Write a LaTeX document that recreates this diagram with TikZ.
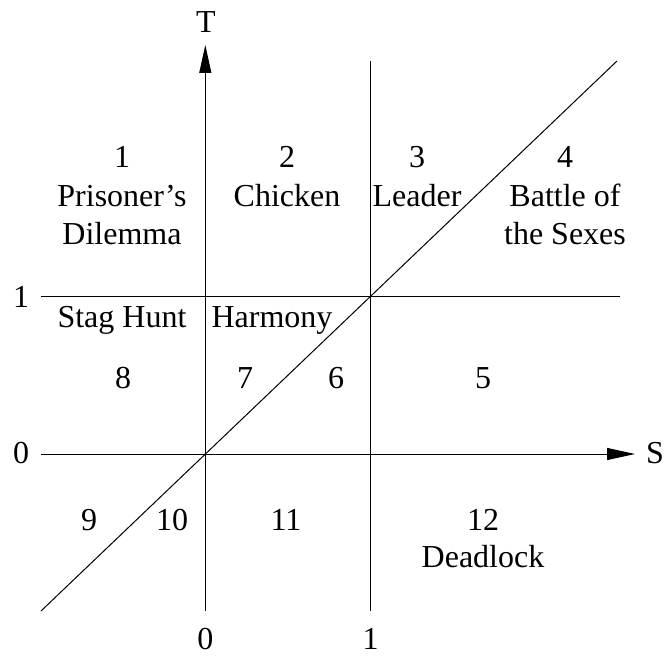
\documentclass[tikz,border=0pt]{standalone}
\usepackage{fontspec}
\setmainfont{Liberation Serif}
\usetikzlibrary{arrows.meta}
\begin{document}
\begin{tikzpicture}[x=0.5pt,y=-0.5pt,
  lbl/.style={anchor=base,inner sep=0pt,font=\fontsize{16}{19.2}\selectfont},
  ln/.style={line width=0.5pt},
  axis/.style={line width=0.5pt,-{Triangle[length=14pt,width=6pt]}}]
\useasboundingbox (0,0) rectangle (667,656);
% axes and lines
\coordinate (sL) at (41,454);   \coordinate (sR) at (635,454);
\coordinate (tB) at (205.3,611); \coordinate (tT) at (205.3,45);
\coordinate (oneB) at (370.7,611); \coordinate (oneT) at (370.7,61);
\coordinate (hL) at (41,297);   \coordinate (hR) at (620,297);
\coordinate (dB) at (41,611);   \coordinate (dT) at (617,61);
\draw[axis] (sL) -- (sR);
\draw[axis] (tB) -- (tT);
\draw[ln] (oneB) -- (oneT);
\draw[ln] (hL) -- (hR);
\draw[ln] (dB) -- (dT);
% axis labels
\node[lbl] (T) at (206,33) {T};
\node[lbl] (S) at (655,463) {S};
\node[lbl] (y1) at (21,308) {1};
\node[lbl] (y0) at (21,463) {0};
\node[lbl] (x0) at (205.3,649) {0};
\node[lbl] (x1) at (370.7,649) {1};
% region labels
\node[lbl] (n1) at (122,168) {1};
\node[lbl] (pd1) at (122,207) {Prisoner's};
\node[lbl] (pd2) at (122,245) {Dilemma};
\node[lbl] (n2) at (287,168) {2};
\node[lbl] (ch) at (287,207) {Chicken};
\node[lbl] (n3) at (417,168) {3};
\node[lbl] (le) at (417,207) {Leader};
\node[lbl] (n4) at (565,168) {4};
\node[lbl] (bs1) at (565,207) {Battle of};
\node[lbl] (bs2) at (565,245) {the Sexes};
\node[lbl] (sh) at (122,328) {Stag Hunt};
\node[lbl] (ha) at (272,328) {Harmony};
\node[lbl] (n8) at (123,388) {8};
\node[lbl] (n7) at (245,388) {7};
\node[lbl] (n6) at (336,388) {6};
\node[lbl] (n5) at (483,388) {5};
\node[lbl] (n9) at (89,530) {9};
\node[lbl] (n10) at (172,530) {10};
\node[lbl] (n11) at (286,530) {11};
\node[lbl] (n12) at (483,530) {12};
\node[lbl] (dl) at (483,567) {Deadlock};
\end{tikzpicture}
\end{document}
